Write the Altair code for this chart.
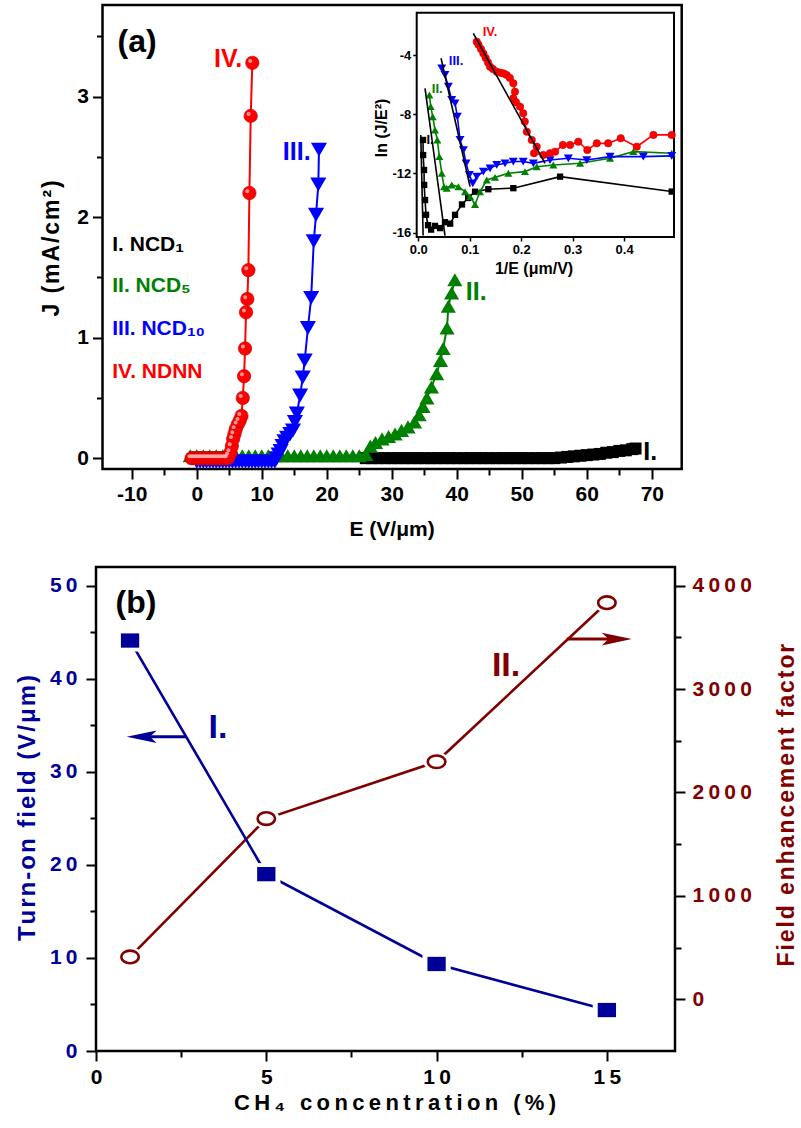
import altair as alt
import pandas as pd

FONT = "Liberation Sans"
W, H = 801, 1128

# ===================== panel (a): J-E curves =====================
ncd1_E = [26, 27, 28, 29, 30, 31, 32, 33, 34, 35, 36, 37, 38, 39, 40, 41, 42, 43, 44, 45,
          46, 47, 48, 49, 50, 51, 52, 53, 54, 55, 56, 57, 58, 59, 60, 61, 62, 63, 64, 65, 66, 67, 67.5]
ncd1_J = [0.0, 0.0, 0.0, 0.0, 0.0, 0.0, 0.0, 0.0, 0.0, 0.0, 0.0, 0.0, 0.0, 0.0, 0.0, 0.0, 0.0, 0.0, 0.0, 0.0,
          0.0, 0.0, 0.0, 0.0, 0.0, 0.0, 0.0, 0.0, 0.0, 0.0, 0.005, 0.01, 0.015, 0.02, 0.025, 0.03, 0.035,
          0.045, 0.05, 0.06, 0.065, 0.075, 0.08]

ncd5_E = [-1, 0, 1, 2, 3, 4, 5, 6, 7, 8, 9, 10, 11, 12, 13, 14, 15, 16, 17, 18, 19, 20, 21, 22, 23, 24, 25,
          26.0, 26.7, 27.5, 28.5, 29.5, 30.5, 31.5, 32.5, 33.5, 34.2, 34.8, 35.4, 36.1, 36.9, 37.5, 37.9,
          38.5, 38.7, 39.2, 39.7]
ncd5_J = [0.02, 0.02, 0.02, 0.02, 0.02, 0.02, 0.02, 0.02, 0.02, 0.02, 0.02, 0.02, 0.02, 0.02, 0.02, 0.02,
          0.02, 0.02, 0.02, 0.02, 0.02, 0.02, 0.02, 0.02, 0.02, 0.02, 0.02,
          0.03, 0.10, 0.13, 0.16, 0.18, 0.20, 0.23, 0.26, 0.30, 0.36, 0.43, 0.50, 0.59, 0.70, 0.81, 0.91,
          1.08, 1.26, 1.37, 1.48]

ncd10_E = [0, 0.5, 1, 1.5, 2, 2.5, 3, 3.5, 4, 4.5, 5, 5.5, 6, 6.5, 7, 7.5, 8, 8.5, 9, 9.5, 10, 10.5, 11, 11.5, 12,
           12.3, 12.6, 12.9, 13.2, 13.5, 13.9, 14.4, 14.8, 15.1, 15.4, 15.9, 16.3, 16.6, 17.1, 17.6, 18.0,
           18.35, 18.7, 18.8]
ncd10_J = [-0.03, -0.03, -0.03, -0.03, -0.03, -0.03, -0.03, -0.03, -0.03, -0.03, -0.03, -0.03, -0.03,
           -0.03, -0.03, -0.03, -0.03, -0.03, -0.03, -0.03, -0.03, -0.03, -0.03, -0.03, -0.03,
           0.0, 0.03, 0.06, 0.10, 0.14, 0.17, 0.20, 0.23, 0.30, 0.37, 0.52, 0.67, 0.81, 1.08, 1.33, 1.80,
           2.02, 2.27, 2.56]

ndnn_E = [-0.8, -0.5, -0.2, 0.1, 0.4, 0.7, 1.0, 1.3, 1.6, 1.9, 2.2, 2.5, 2.8, 3.1, 3.4, 3.7, 4.0, 4.3, 4.6, 4.8,
          5.0, 5.2, 5.4, 5.6, 5.8, 6.0, 6.3, 6.6, 6.88, 7.08, 7.28, 7.43, 7.58, 7.78, 7.94, 8.1, 8.3, 8.55]
ndnn_J = [0.0, 0.0, 0.0, 0.0, 0.0, 0.0, 0.0, 0.0, 0.0, 0.0, 0.0, 0.0, 0.0, 0.0, 0.0, 0.0, 0.0, 0.0, 0.0, 0.0,
          0.02, 0.05, 0.10, 0.16, 0.20, 0.24, 0.28, 0.31, 0.35, 0.50, 0.68, 0.91, 1.21, 1.32, 1.56, 2.20,
          2.84, 3.28]

# ===================== inset: F-N plot ln(J/E^2) vs 1/E =====================
in1_u = [0.0093, 0.0095, 0.0113, 0.0115, 0.0132, 0.0152, 0.019, 0.025, 0.0326, 0.0424, 0.052, 0.062,
         0.0715, 0.085, 0.097, 0.1104, 0.1362, 0.1848, 0.2756, 0.4926]
in1_v = [-9.74, -10.76, -11.77, -12.78, -13.8, -14.8, -15.5, -15.8, -15.55, -15.7, -15.3, -15.4,
         -14.8, -14.1, -13.66, -13.24, -13.07, -13.0, -12.22, -13.23]
in5_u = [0.0216, 0.0243, 0.0282, 0.0326, 0.0371, 0.041, 0.0457, 0.0501, 0.0554, 0.0651, 0.078, 0.091,
         0.1007, 0.1104, 0.12, 0.1331, 0.1492, 0.1751, 0.2075, 0.2303, 0.2625, 0.3144, 0.3727, 0.418, 0.4926]
in5_v = [-6.7, -7.49, -8.17, -9.07, -9.74, -10.87, -11.99, -12.9, -13.0, -12.78, -12.9, -13.24,
         -13.57, -14.1, -13.24, -12.45, -12.27, -11.99, -11.88, -11.55, -11.43, -11.32, -10.98, -10.53, -10.64]
in10_u = [0.0457, 0.052, 0.0585, 0.065, 0.0715, 0.076, 0.0812, 0.0877, 0.093, 0.0993, 0.106, 0.1137,
          0.1266, 0.1395, 0.1525, 0.1687, 0.1848, 0.204, 0.2237, 0.2561, 0.2917, 0.3275, 0.3727, 0.4374, 0.4926]
in10_v = [-4.9, -5.35, -6.14, -7.04, -7.26, -8.17, -9.74, -10.42, -11.32, -12.1, -12.67, -12.22,
          -11.88, -11.66, -11.43, -11.32, -11.2, -11.2, -11.32, -11.1, -10.98, -11.1, -10.87, -10.87, -10.82]
innd_u = [0.1137, 0.117, 0.122, 0.1266, 0.131, 0.1355, 0.1395, 0.145, 0.1525, 0.160, 0.166, 0.172, 0.178,
          0.1848, 0.188, 0.1848, 0.190, 0.1978, 0.204, 0.207, 0.211, 0.2206, 0.2303, 0.225, 0.243, 0.256,
          0.266, 0.281, 0.295, 0.311, 0.3286, 0.347, 0.369, 0.3935, 0.4246, 0.457, 0.4926]
innd_v = [-3.10, -3.30, -3.60, -3.89, -4.20, -4.50, -4.79, -4.95, -5.13, -5.20, -5.25, -5.35, -5.55,
          -5.91, -6.48, -6.93, -7.20, -7.49, -7.94, -8.50, -9.18, -9.74, -10.2, -10.64, -10.76, -10.64,
          -10.53, -10.08, -10.08, -9.86, -10.42, -9.97, -9.97, -9.63, -10.2, -9.4, -9.4]
# linear F-N fits (I, II, III, IV)
fit_u0 = [0.0049, 0.0132, 0.0443, 0.107]
fit_v0 = [-9.4, -6.25, -4.22, -2.53]
fit_u1 = [0.0095, 0.052, 0.1007, 0.2464]
fit_v1 = [-16.2, -16.2, -12.9, -11.32]

# ===================== panel (b) =====================
conc = [1, 5, 10, 15]
turn_on = [44.1, 19.0, 9.35, 4.4]
beta = [410, 1747, 2297, 3835]

# ===================== tick labels =====================
A_X_TICKS = [-10, 0, 10, 20, 30, 40, 50, 60, 70]
A_X_LABELS = ["-10", "0", "10", "20", "30", "40", "50", "60", "70"]
A_X_MINOR = [-5, 5, 15, 25, 35, 45, 55, 65]
A_Y_TICKS = [0, 1, 2, 3]
A_Y_LABELS = ["0", "1", "2", "3"]
A_Y_MINOR = [0.5, 1.5, 2.5, 3.5]
I_X_TICKS = [0.0, 0.1, 0.2, 0.3, 0.4]
I_X_LABELS = ["0.0", "0.1", "0.2", "0.3", "0.4"]
I_Y_TICKS = [-4, -8, -12, -16]
I_Y_LABELS = ["-4", "-8", "-12", "-16"]
B_X_TICKS = [0, 5, 10, 15]
B_X_LABELS = ["0", "5", "10", "15"]
B_X_MINOR = [2.5, 7.5, 12.5]
B_YL_TICKS = [0, 10, 20, 30, 40, 50]
B_YL_LABELS = ["0", "10", "20", "30", "40", "50"]
B_YL_MINOR = [5, 15, 25, 35, 45]
B_YR_TICKS = [0, 1000, 2000, 3000, 4000]
B_YR_LABELS = ["0", "1000", "2000", "3000", "4000"]
B_YR_MINOR = [500, 1500, 2500, 3500]

# ===================== layout (pixel ranges of each panel) =====================
SC = {
    "a": ([-14.5, 74.6], [102.5, 681.7], [-0.09, 3.76], [469, 5]),
    "i": ([-0.003, 0.497], [416.7, 674.0], [-16.3, -1.14], [237, 12.7]),
    "b": ([0, 17], [96, 675], [0, 52], [1051, 567]),
    "r": ([0, 17], [96, 675], [-500, 4180], [1051, 567]),
}
BLUE_B = "#000099"
RED_B = "#800000"
THIN = "\u2009"
HAIR = "\u200a"


def spaced(s, sep):
    return sep.join(list(s))


def scale(dom, rng):
    return alt.Scale(domain=dom, range=rng, nice=False, zero=False)


def xy(p, xf="x", yf="y", xaxis=None, yaxis=None, x2=None, y2=None):
    xd, xr, yd, yr = SC[p]
    enc = dict(
        x=alt.X(f"{xf}:Q", scale=scale(xd, xr), axis=xaxis, title=None),
        y=alt.Y(f"{yf}:Q", scale=scale(yd, yr), axis=yaxis, title=None),
    )
    if x2:
        enc["x2"] = alt.X2(f"{x2}:Q")
    if y2:
        enc["y2"] = alt.Y2(f"{y2}:Q")
    return enc


def label_expr(values, labels):
    expr = "''"
    for v, l in reversed(list(zip(values, labels))):
        expr = f"(abs(datum.value - ({v})) < 1e-6 ? '{l}' : {expr})"
    return expr


def axis_major(orient, offset, values, labels, fs, color, pad, tsize=10, twidth=2):
    return alt.Axis(orient=orient, offset=offset, values=values,
                    labelExpr=label_expr(values, labels), tickSize=tsize, tickWidth=twidth,
                    tickColor="black", domain=False, grid=False, labelFont=FONT,
                    labelFontSize=fs, labelFontWeight="bold", labelColor=color,
                    labelPadding=pad, labelFlush=False, labelOverlap=False)


def axis_minor(orient, offset, values, tsize=6, twidth=2):
    return alt.Axis(orient=orient, offset=offset, values=values, labels=False,
                    tickSize=tsize, tickWidth=twidth, tickColor="black", domain=False, grid=False)


def box(p, sw=0, fill=None, xaxis=None, yaxis=None):
    xd, xr, yd, yr = SC[p]
    df = pd.DataFrame({"x0": [xd[0]], "x1": [xd[1]], "y0": [yd[0]], "y1": [yd[1]]})
    kw = dict(stroke="black", strokeWidth=sw if sw else 0.01)
    if sw == 0:
        kw["strokeOpacity"] = 0
    if fill:
        kw["fill"] = fill
    else:
        kw["fillOpacity"] = 0
    return alt.Chart(df).mark_rect(**kw).encode(**xy(p, "x0", "y0", xaxis, yaxis, "x1", "y1"))


def series(p, xs, ys, color, shape, size, lw, stroke=None, sw=0, highlight=None):
    df = pd.DataFrame({"x": xs, "y": ys, "i": list(range(len(xs)))})
    line = alt.Chart(df).mark_line(color=color, strokeWidth=lw).encode(**xy(p), order=alt.Order("i:Q"))
    kw = dict(shape=shape, size=size, filled=True, color=color, opacity=1)
    if stroke:
        kw.update(stroke=stroke, strokeWidth=sw)
    out = [line, alt.Chart(df).mark_point(**kw).encode(**xy(p))]
    if highlight:
        # small off-centre glint that gives the spheres their shaded look
        out.append(alt.Chart(df).mark_point(
            shape="M-0.62,-0.28A0.3,0.3,0,1,1,-0.02,-0.28A0.3,0.3,0,1,1,-0.62,-0.28Z",
            size=size, filled=True, color=highlight, opacity=0.85).encode(**xy(p)))
    return out


def text(p, x, y, s, color="black", size=21, align="center", angle=0, baseline="middle"):
    df = pd.DataFrame({"x": [x], "y": [y], "t": [s]})
    kw = dict(font=FONT, fontSize=size, fontWeight="bold", color=color, align=align, baseline=baseline)
    if angle:
        kw["angle"] = angle
    return alt.Chart(df).mark_text(**kw).encode(**xy(p), text="t:N")


layers = []

# ---------- panel (a) ----------
layers.append(box("a", sw=2.5,
                  xaxis=axis_major("bottom", 469 - H, A_X_TICKS, A_X_LABELS, 21, "black", 4),
                  yaxis=axis_major("left", -102.5, A_Y_TICKS, A_Y_LABELS, 21, "black", 4)))
layers.append(box("a", xaxis=axis_minor("bottom", 469 - H, A_X_MINOR),
                  yaxis=axis_minor("left", -102.5, A_Y_MINOR)))
layers += series("a", ncd1_E, ncd1_J, "black", "square", 144, 2)
layers += series("a", ncd5_E, ncd5_J, "#008000", "triangle-up", 230, 2)
layers += series("a", ncd10_E, ncd10_J, "#0000ff", "triangle-down", 260, 2)
layers += series("a", ndnn_E, ndnn_J, "#ff0000", "circle", 180, 2, stroke="#c00000", sw=0.6,
                 highlight="#ffb0b0")

layers.append(text("a", -9.18, 3.454, "(a)", size=32))
layers.append(text("a", 4.82, 3.313, "IV.", color="#ff0000", size=25))
layers.append(text("a", 15.38, 2.541, "III.", color="#0000ff", size=25))
layers.append(text("a", 43.0, 1.378, "II.", color="#008000", size=25))
layers.append(text("a", 69.75, 0.051, "I.", size=25))
layers.append(text("a", -13.0, 1.768, "I. NCD\u2081", size=21, align="left"))
layers.append(text("a", -13.0, 1.431, "II. NCD\u2085", color="#008000", size=21, align="left"))
layers.append(text("a", -13.0, 1.071, "III. NCD\u2081\u2080", color="#0000ff", size=21, align="left"))
layers.append(text("a", -13.0, 0.718, "IV. NDNN", color="#ff0000", size=21, align="left"))
layers.append(text("a", -22.34, 1.74, spaced("J (mA/cm²)", HAIR), size=23, angle=270))
layers.append(text("a", 30.05, -0.596, "E (V/μm)", size=21))

# ---------- inset ----------
layers.append(box("i", sw=2, fill="white",
                  xaxis=axis_major("bottom", 237 - H, I_X_TICKS, I_X_LABELS, 13, "black", 2, tsize=4, twidth=1.5),
                  yaxis=axis_major("left", -416.7, I_Y_TICKS, I_Y_LABELS, 13, "black", 2, tsize=4, twidth=1.5)))
layers += series("i", in1_u, in1_v, "black", "square", 40, 1.6)
layers += series("i", in5_u, in5_v, "#008000", "triangle-up", 64, 1.6)
layers += series("i", in10_u, in10_v, "#0000ff", "triangle-down", 80, 1.6)
layers += series("i", innd_u, innd_v, "#ff0000", "circle", 56, 1.6, stroke="#c00000", sw=0.5)
fit_df = pd.DataFrame({"x": fit_u0, "y": fit_v0, "x1": fit_u1, "y1": fit_v1})
layers.append(alt.Chart(fit_df).mark_rule(color="black", strokeWidth=1.6)
              .encode(**xy("i", "x", "y", None, None, "x1", "y1")))
layers.append(text("i", 0.1395, -2.43, "IV.", color="#ff0000", size=13))
layers.append(text("i", 0.0735, -4.4, "III.", color="#0000ff", size=13))
layers.append(text("i", 0.037, -6.3, "II.", color="#008000", size=13))
layers.append(text("i", 0.023, -9.74, "I.", size=13))
layers.append(text("i", -0.0703, -8.93, "ln (J/E²)", size=16, angle=270))
layers.append(text("i", 0.225, -18.45, "1/E (μm/V)", size=16))

# ---------- panel (b) ----------
spaced_lbl = lambda labels: [spaced(s, THIN) for s in labels]
layers.append(box("b", sw=2.5,
                  xaxis=axis_major("bottom", 1051 - H, B_X_TICKS, spaced_lbl(B_X_LABELS), 21, "black", 5),
                  yaxis=axis_major("left", -96, B_YL_TICKS, spaced_lbl(B_YL_LABELS), 21, BLUE_B, 9)))
layers.append(box("b", xaxis=axis_minor("bottom", 1051 - H, B_X_MINOR),
                  yaxis=axis_minor("left", -96, B_YL_MINOR)))
layers.append(box("r", yaxis=axis_major("right", 675 - W, B_YR_TICKS, spaced_lbl(B_YR_LABELS), 21, RED_B, 7)))
layers.append(box("r", yaxis=axis_minor("right", 675 - W, B_YR_MINOR)))

beta_df = pd.DataFrame({"x": conc, "y": beta})
ton_df = pd.DataFrame({"x": conc, "y": turn_on})
ELLIPSE = "M-1,0A1,0.72,0,1,1,1,0A1,0.72,0,1,1,-1,0Z"
RECT = "M-1,-0.78L1,-0.78L1,0.78L-1,0.78Z"
layers.append(alt.Chart(beta_df).mark_line(color=RED_B, strokeWidth=2.6).encode(**xy("r")))
layers.append(alt.Chart(ton_df).mark_line(color=BLUE_B, strokeWidth=2.6).encode(**xy("b")))
layers.append(alt.Chart(beta_df).mark_point(shape=ELLIPSE, size=700, filled=True, color="white", opacity=1)
              .encode(**xy("r")))
layers.append(alt.Chart(ton_df).mark_point(shape=RECT, size=800, filled=True, color="white", opacity=1)
              .encode(**xy("b")))
layers.append(alt.Chart(beta_df).mark_point(shape=ELLIPSE, size=306, filled=True, fill="white",
                                            stroke=RED_B, strokeWidth=2.6, opacity=1).encode(**xy("r")))
layers.append(alt.Chart(ton_df).mark_point(shape=RECT, size=335, filled=True, color=BLUE_B, opacity=1)
              .encode(**xy("b")))

# arrows pointing to the axes
arr_l = pd.DataFrame({"x": [1.34], "x1": [2.66], "y": [33.76]})
layers.append(alt.Chart(arr_l).mark_rule(color=BLUE_B, strokeWidth=3).encode(**xy("b", "x", "y", None, None, "x1")))
layers.append(alt.Chart(arr_l).mark_point(shape="M-1,0L1,-0.42L0.55,0L1,0.42Z", size=900, filled=True,
                                          color=BLUE_B, opacity=1).encode(**xy("b")))
arr_r = pd.DataFrame({"x": [13.82], "x1": [15.29], "y": [3483]})
layers.append(alt.Chart(arr_r).mark_rule(color=RED_B, strokeWidth=3).encode(**xy("r", "x", "y", None, None, "x1")))
arr_r2 = pd.DataFrame({"x": [15.29], "y": [3483]})
layers.append(alt.Chart(arr_r2).mark_point(shape="M1,0L-1,-0.42L-0.55,0L-1,0.42Z", size=900, filled=True,
                                           color=RED_B, opacity=1).encode(**xy("r")))

layers.append(text("b", 1.174, 48.12, "(b)", size=32))
layers.append(text("b", 3.58, 34.7, "I.", color=BLUE_B, size=34))
layers.append(text("b", 12.04, 41.35, "II.", color=RED_B, size=34))
layers.append(text("b", -1.996, 26.1, spaced("Turn-on field (V/μm)", HAIR), color=BLUE_B, size=24, angle=270))
layers.append(text("b", 20.287, 26.42, spaced("Field enhancement factor", HAIR), color=RED_B, size=23, angle=270))
layers.append(text("b", 8.78, -5.59, spaced("CH₄ concentration (%)", THIN), size=22))

chart = (
    alt.layer(*layers)
    .resolve_scale(x="independent", y="independent")
    .properties(width=W, height=H, autosize=alt.AutoSizeParams(type="none"), padding=0)
    .configure_view(strokeWidth=0)
)
chart.save("out.html", embed_options={"renderer": "svg", "actions": False})
